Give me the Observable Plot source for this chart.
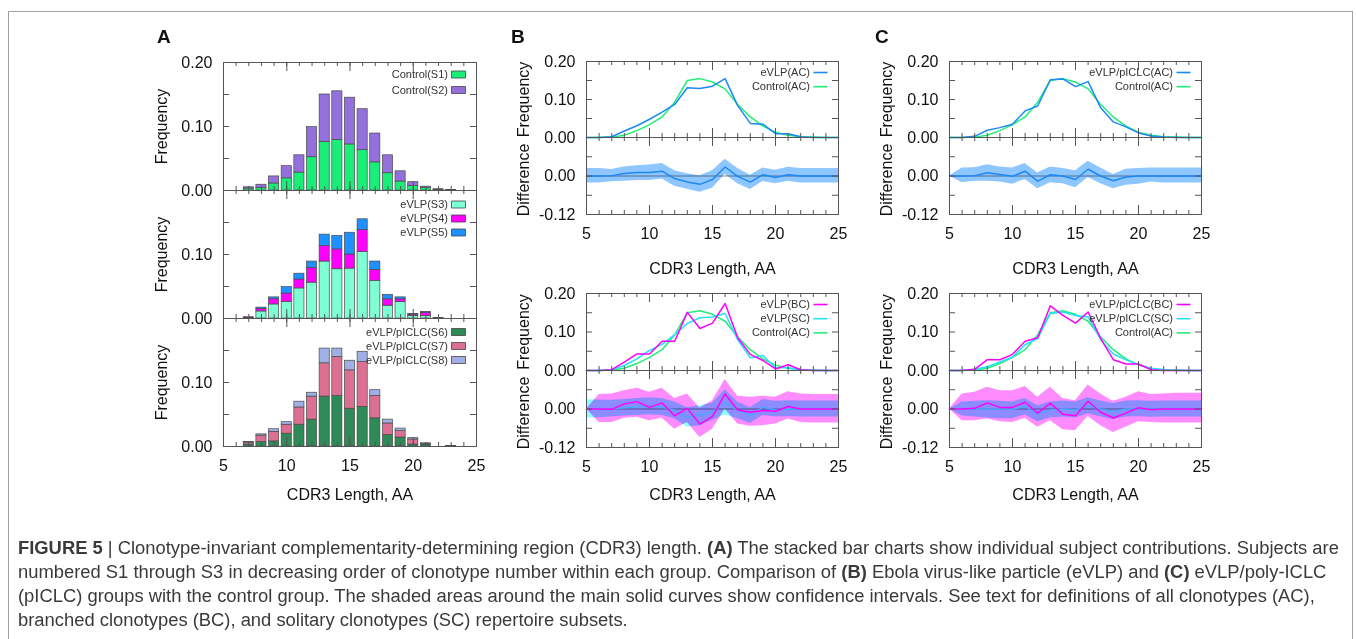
<!DOCTYPE html>
<html><head><meta charset="utf-8">
<script src="https://cdn.jsdelivr.net/npm/d3@7"></script>
<script src="https://cdn.jsdelivr.net/npm/@observablehq/plot@0.6"></script>
<style>
html,body{margin:0;padding:0;background:#fff;}
#wrap{position:relative;width:1356px;height:639px;overflow:hidden;font-family:"Liberation Sans",Arial,sans-serif;}
#wrap svg{position:absolute;background:transparent;overflow:visible;}
.border{position:absolute;left:8px;top:11px;width:1343px;height:700px;border:1px solid #a0a0a0;}
.letter{position:absolute;font-weight:bold;font-size:19px;line-height:19px;color:#111;}
.cap{position:absolute;left:18px;white-space:nowrap;font-size:15px;line-height:20px;color:#3a3a3a;}
</style></head><body><div id="wrap"><div class="border"></div></div>
<script>
// ---------------- data ----------------
const barLengths = [6,7,8,9,10,11,12,13,14,15,16,17,18,19,20,21,22,23];
const controlS1 = [0,0.003,0.004,0.011,0.019,0.028,0.052,0.076,0.079,0.072,0.063,0.044,0.027,0.014,0.007,0.004,0.001,0];
const controlS2 = [0,0.002,0.005,0.011,0.019,0.027,0.047,0.074,0.076,0.073,0.064,0.045,0.028,0.016,0.006,0.002,0.001,0.001];
const evlpS3 = [0,0.001,0.011,0.022,0.026,0.047,0.056,0.089,0.077,0.078,0.104,0.059,0.020,0.026,0.004,0.004,0.001,0];
const evlpS4 = [0,0.001,0.004,0.008,0.013,0.014,0.023,0.024,0.031,0.022,0.034,0.017,0.010,0.004,0.002,0.005,0,0];
const evlpS5 = [0,0,0.002,0.003,0.010,0.009,0.010,0.018,0.021,0.034,0.017,0.013,0.007,0.003,0.001,0.001,0,0];
const piclcS6 = [0,0.003,0.007,0.008,0.020,0.034,0.042,0.078,0.079,0.059,0.062,0.044,0.018,0.014,0.003,0.003,0,0.001];
const piclcS7 = [0,0.003,0.010,0.015,0.014,0.027,0.036,0.052,0.061,0.060,0.070,0.035,0.018,0.010,0.008,0.001,0,0];
const piclcS8 = [0,0.001,0.002,0.004,0.004,0.009,0.006,0.023,0.013,0.015,0.016,0.009,0.006,0.004,0.002,0.001,0,0];

const lengths = [5,6,7,8,9,10,11,12,13,14,15,16,17,18,19,20,21,22,23,24,25];
const controlAC = [0,0,0.001,0.006,0.018,0.034,0.054,0.093,0.150,0.155,0.146,0.128,0.087,0.054,0.030,0.014,0.006,0.002,0.001,0,0];
const evlpAC  = [0,0,0.002,0.017,0.031,0.048,0.067,0.087,0.131,0.129,0.135,0.155,0.084,0.037,0.035,0.010,0.010,0.002,0,0,0];
const evlpBC  = [0,0,0.002,0.022,0.043,0.043,0.076,0.076,0.151,0.109,0.123,0.174,0.085,0.042,0.026,0.004,0.015,0.002,0,0,0];
const evlpSC  = [0,0,0.002,0.013,0.030,0.052,0.068,0.093,0.122,0.137,0.139,0.148,0.080,0.033,0.039,0.007,0.007,0.002,0,0,0];
const piclcAC = [0,0,0.003,0.019,0.026,0.035,0.070,0.083,0.152,0.154,0.134,0.147,0.078,0.041,0.028,0.012,0.004,0.001,0,0,0];
const piclcBC = [0,0,0.003,0.028,0.028,0.042,0.076,0.085,0.168,0.143,0.123,0.152,0.083,0.028,0.017,0.017,0.002,0,0,0,0];
const piclcSC = [0,0,0.003,0.010,0.022,0.035,0.067,0.083,0.148,0.152,0.143,0.139,0.080,0.043,0.028,0.016,0.005,0.002,0,0,0];

const diffEvlpAC    = [0,0,0.001,0.008,0.011,0.011,0.015,-0.008,-0.019,-0.026,-0.011,0.028,-0.001,-0.019,0.004,-0.005,0.004,0,0,0,0];
const diffEvlpAC_hi = [0.023,0.023,0.020,0.028,0.032,0.034,0.039,0.016,0.007,0.001,0.016,0.052,0.023,0.002,0.025,0.018,0.027,0.023,0.023,0.023,0.023];
const diffEvlpAC_lo = [-0.022,-0.022,-0.018,-0.016,-0.014,-0.014,-0.009,-0.032,-0.041,-0.051,-0.038,0.005,-0.024,-0.042,-0.017,-0.024,-0.016,-0.022,-0.022,-0.022,-0.022];
const diffEvlpBC    = [0,0,-0.001,0.016,0.023,0.005,0.019,-0.021,0.002,-0.047,-0.023,0.047,-0.003,-0.010,-0.005,-0.007,0.008,0,0,0,0];
const diffEvlpBC_hi = [0,0.045,0.047,0.057,0.065,0.052,0.065,0.033,0.047,0.003,0.026,0.092,0.040,0.037,0.040,0.037,0.054,0.047,0.045,0.045,0.045];
const diffEvlpBC_lo = [0,-0.042,-0.042,-0.029,-0.026,-0.037,-0.029,-0.063,-0.042,-0.089,-0.063,0.000,-0.047,-0.054,-0.052,-0.047,-0.031,-0.042,-0.044,-0.044,-0.044];
const diffEvlpSC    = [0,0,0.001,0.004,0.006,0.009,0.006,-0.004,-0.026,-0.019,-0.008,0.020,-0.004,-0.020,0.006,-0.003,0.001,0,0,0,0];
const diffEvlpSC_hi = [0.029,0.028,0.027,0.030,0.033,0.035,0.033,0.022,0.004,0.010,0.018,0.060,0.022,0.004,0.030,0.024,0.026,0.025,0.025,0.025,0.025];
const diffEvlpSC_lo = [-0.029,-0.027,-0.025,-0.022,-0.020,-0.018,-0.020,-0.030,-0.057,-0.052,-0.035,-0.019,-0.030,-0.045,-0.020,-0.025,-0.024,-0.025,-0.025,-0.025,-0.025];

const diffPiclcAC    = [0,0,0.001,0.010,0.005,-0.001,0.015,-0.016,0.004,0,-0.011,0.021,0,-0.015,-0.003,0,0,0,0,0,0];
const diffPiclcAC_hi = [0,0.025,0.026,0.035,0.028,0.025,0.039,0.009,0.028,0.023,0.016,0.046,0.025,0.005,0.021,0.023,0.025,0.025,0.025,0.025,0.025];
const diffPiclcAC_lo = [0,-0.021,-0.016,-0.016,-0.019,-0.026,-0.011,-0.040,-0.021,-0.024,-0.037,-0.005,-0.024,-0.040,-0.029,-0.026,-0.019,-0.022,-0.022,-0.022,-0.022];
const diffPiclcBC    = [0,0,0.002,0.019,0.005,0.005,0.021,-0.013,0.018,-0.016,-0.021,0.024,-0.010,-0.028,-0.013,0.004,-0.002,0,0,0,0];
const diffPiclcBC_hi = [0,0.047,0.052,0.068,0.057,0.057,0.070,0.037,0.068,0.033,0.026,0.075,0.047,0.023,0.037,0.054,0.045,0.047,0.049,0.049,0.049];
const diffPiclcBC_lo = [0,-0.037,-0.037,-0.031,-0.040,-0.042,-0.029,-0.057,-0.037,-0.065,-0.068,-0.023,-0.052,-0.073,-0.057,-0.040,-0.042,-0.044,-0.044,-0.044,-0.044];
const diffPiclcSC    = [0,0,0.001,0,0,-0.001,0.008,-0.016,-0.003,0,-0.002,0.010,0,-0.008,0,0.001,-0.001,0,0,0,0];
const diffPiclcSC_hi = [0,0.022,0.024,0.026,0.024,0.022,0.033,0.010,0.022,0.025,0.022,0.035,0.025,0.017,0.025,0.026,0.024,0.025,0.025,0.025,0.025];
const diffPiclcSC_lo = [0,-0.022,-0.025,-0.028,-0.030,-0.030,-0.018,-0.040,-0.028,-0.025,-0.028,-0.015,-0.025,-0.033,-0.025,-0.024,-0.026,-0.025,-0.025,-0.025,-0.025];

const xTickLabels = [5,10,15,20,25];
const xMinorTicks = [5,6,7,8,9,10,11,12,13,14,15,16,17,18,19,20,21,22,23,24,25];
const freqTicks = [0,0.05,0.10,0.15,0.20];
const freqLabelsTop = [0,0.10,0.20];
const freqLabelsLower = [0,0.10];
const diffTicks = [-0.12,-0.06,0,0.06,0.12];
const diffLabels = [-0.12,0];

// ---------------- helpers ----------------
const wrap = document.getElementById("wrap");
const INK = "#111", FRAME = "#555";
const C = {s1:"#1aee78", s2:"#9370db", s3:"#7fffd4", s4:"#ff00ff", s5:"#1e90ff", s6:"#2e8b57", s7:"#db7093", s8:"#a0b0e4",
  ctrl:"#22ee77", ac:"#1e88f5", bc:"#ff00ff", sc:"#22e2ff", scDiff:"#4da6ff"};
const rectSymbol = {draw(c){ c.rect(-7,-3.5,14,7); }};
const lineSymbol = {draw(c){ c.moveTo(-7,0); c.lineTo(7,0); }};

const series = v => lengths.map((x,i) => ({x, y: v[i]}));
const band = (lo,hi) => lengths.map((x,i) => ({x, lo: lo[i], hi: hi[i]}));

function stackMarks(list){
  const marks = [];
  const acc = barLengths.map(() => 0);
  for (const s of list){
    const rows = [];
    barLengths.forEach((len,i) => { const v = s.values[i]; if (v > 0) rows.push({len, y1: acc[i], y2: acc[i] + v}); acc[i] += v; });
    marks.push(Plot.rect(rows, {x1: d => d.len - 0.4, x2: d => d.len + 0.4, y1: "y1", y2: "y2", fill: s.color, stroke: "#4a4a4a", strokeWidth: 0.7}));
  }
  return marks;
}

function legend(rows, top, step, kind){
  const out = [];
  rows.forEach((r,i) => {
    const dy = top + i*step;
    out.push(Plot.text([r.label], {text: d => d, frameAnchor: "top-right", textAnchor: "end", lineAnchor: "middle", dx: -28.5, dy, fontSize: 11, fill: "#333"}));
    out.push(Plot.dot([r], {frameAnchor: "top-right", dx: -18, dy, symbol: kind === "rect" ? rectSymbol : lineSymbol,
      fill: kind === "rect" ? r.color : "none", stroke: kind === "rect" ? "#444" : r.color, strokeWidth: kind === "rect" ? 0.8 : 1.6}));
  });
  return out;
}

function panel(o){
  const ML = 110, MR = 40, MT = 40, MB = 80;
  const W = o.x1 - o.x0, H = o.y1 - o.y0;
  const marks = [
    ...o.marks,
    Plot.tickX(xMinorTicks, {x: d => d, insetTop: H - 4, stroke: FRAME}),
    Plot.tickX(xMinorTicks, {x: d => d, insetBottom: H - 4, stroke: FRAME}),
    Plot.tickX(xTickLabels, {x: d => d, insetTop: H - 9, stroke: FRAME}),
    Plot.tickX(xTickLabels, {x: d => d, insetBottom: H - 9, stroke: FRAME}),
    Plot.tickY(o.yTicks, {y: d => d, insetRight: W - 6, stroke: FRAME}),
    Plot.tickY(o.yTicks, {y: d => d, insetLeft: W - 6, stroke: FRAME}),
    Plot.frame({stroke: FRAME}),
    Plot.axisY(o.yLabels, {tickSize: 0, tickPadding: 11, tickFormat: d => d.toFixed(2), label: null})
  ];
  if (o.xLabels) marks.push(Plot.axisX(xTickLabels, {tickSize: 0, tickPadding: 13, tickFormat: d => String(d), label: null}));
  if (o.xTitle) marks.push(Plot.text([o.xTitle], {text: d => d, frameAnchor: "bottom", textAnchor: "middle", lineAnchor: "middle", dy: o.xTitleDy, fontSize: 16, fill: INK}));
  if (o.yTitle) marks.push(Plot.text([o.yTitle], {text: d => d, frameAnchor: "left", textAnchor: "middle", lineAnchor: "middle", dx: o.yTitleDx, dy: o.yTitleDy || 0, rotate: -90, fontSize: 16, fill: INK}));
  const svg = Plot.plot({
    width: W + ML + MR, height: H + MT + MB,
    marginLeft: ML, marginRight: MR, marginTop: MT, marginBottom: MB,
    x: {domain: [5,25], axis: null},
    y: {domain: o.yDomain, axis: null},
    style: {background: "transparent", overflow: "visible", fontFamily: '"Liberation Sans", Arial, sans-serif', fontSize: "16px", color: INK},
    marks
  });
  svg.style.position = "absolute";
  svg.style.left = (o.x0 - ML) + "px";
  svg.style.top = (o.y0 - MT) + "px";
  wrap.appendChild(svg);
}

const freqDomain = [0, 0.2], diffDomain = [-0.12, 0.12];
const L = {ax0: 223, ax1: 476, bx0: 586, bx1: 838, cx0: 949, cx1: 1201,
  a: [62, 190, 318, 446], top: [61, 137, 214], bot: [293, 370, 447]};

// ---------------- panel A ----------------
panel({x0: L.ax0, x1: L.ax1, y0: L.a[0], y1: L.a[1], yDomain: freqDomain, yTicks: freqTicks, yLabels: freqLabelsTop,
  yTitle: "Frequency", yTitleDx: -62,
  marks: [...stackMarks([{values: controlS1, color: C.s1}, {values: controlS2, color: C.s2}]),
    ...legend([{label: "Control(S1)", color: C.s1}, {label: "Control(S2)", color: C.s2}], 12, 15.5, "rect")]});
panel({x0: L.ax0, x1: L.ax1, y0: L.a[1], y1: L.a[2], yDomain: freqDomain, yTicks: freqTicks, yLabels: freqLabelsLower,
  yTitle: "Frequency", yTitleDx: -62,
  marks: [...stackMarks([{values: evlpS3, color: C.s3}, {values: evlpS4, color: C.s4}, {values: evlpS5, color: C.s5}]),
    ...legend([{label: "eVLP(S3)", color: C.s3}, {label: "eVLP(S4)", color: C.s4}, {label: "eVLP(S5)", color: C.s5}], 14, 14, "rect")]});
panel({x0: L.ax0, x1: L.ax1, y0: L.a[2], y1: L.a[3], yDomain: freqDomain, yTicks: freqTicks, yLabels: freqLabelsLower,
  yTitle: "Frequency", yTitleDx: -62, xLabels: true, xTitle: "CDR3 Length, AA", xTitleDy: 48,
  marks: [...stackMarks([{values: piclcS6, color: C.s6}, {values: piclcS7, color: C.s7}, {values: piclcS8, color: C.s8}]),
    ...legend([{label: "eVLP/pICLC(S6)", color: C.s6}, {label: "eVLP/pICLC(S7)", color: C.s7}, {label: "eVLP/pICLC(S8)", color: C.s8}], 13.5, 14, "rect")]});

// ---------------- panels B and C ----------------
function freqPanel(x0, x1, y0, y1, lines, legendRows){
  panel({x0, x1, y0, y1, yDomain: freqDomain, yTicks: freqTicks, yLabels: freqLabelsTop, yTitle: "Frequency", yTitleDx: -63,
    marks: [...lines.map(l => Plot.lineY(series(l.values), {x: "x", y: "y", stroke: l.color, strokeWidth: 1.5})),
      ...legend(legendRows, 11, 14.2, "line")]});
}
function diffPanel(x0, x1, y0, y1, bands, lines, xTitleDy){
  panel({x0, x1, y0, y1, yDomain: diffDomain, yTicks: diffTicks, yLabels: diffLabels, yTitle: "Difference", yTitleDx: -63, yTitleDy: 4,
    xLabels: true, xTitle: "CDR3 Length, AA", xTitleDy,
    marks: [Plot.ruleY([0], {stroke: "#8a8a8a", strokeWidth: 1}),
      ...bands.map(b => Plot.areaY(band(b.lo, b.hi), {x: "x", y1: "lo", y2: "hi", fill: b.color, fillOpacity: b.opacity, mixBlendMode: "multiply"})),
      ...lines.map(l => Plot.lineY(series(l.values), {x: "x", y: "y", stroke: l.color, strokeWidth: 1.5}))]});
}

freqPanel(L.bx0, L.bx1, L.top[0], L.top[1],
  [{values: controlAC, color: C.ctrl}, {values: evlpAC, color: C.ac}],
  [{label: "eVLP(AC)", color: C.ac}, {label: "Control(AC)", color: C.ctrl}]);
diffPanel(L.bx0, L.bx1, L.top[1], L.top[2],
  [{lo: diffEvlpAC_lo, hi: diffEvlpAC_hi, color: "#1e90ff", opacity: 0.5}],
  [{values: diffEvlpAC, color: C.ac}], 54);
freqPanel(L.bx0, L.bx1, L.bot[0], L.bot[1],
  [{values: controlAC, color: C.ctrl}, {values: evlpSC, color: C.sc}, {values: evlpBC, color: C.bc}],
  [{label: "eVLP(BC)", color: C.bc}, {label: "eVLP(SC)", color: C.sc}, {label: "Control(AC)", color: C.ctrl}]);
diffPanel(L.bx0, L.bx1, L.bot[1], L.bot[2],
  [{lo: diffEvlpSC_lo, hi: diffEvlpSC_hi, color: "#00ffff", opacity: 0.45}, {lo: diffEvlpBC_lo, hi: diffEvlpBC_hi, color: "#ff00ff", opacity: 0.45}],
  [{values: diffEvlpSC, color: C.scDiff}, {values: diffEvlpBC, color: C.bc}], 47);

freqPanel(L.cx0, L.cx1, L.top[0], L.top[1],
  [{values: controlAC, color: C.ctrl}, {values: piclcAC, color: C.ac}],
  [{label: "eVLP/pICLC(AC)", color: C.ac}, {label: "Control(AC)", color: C.ctrl}]);
diffPanel(L.cx0, L.cx1, L.top[1], L.top[2],
  [{lo: diffPiclcAC_lo, hi: diffPiclcAC_hi, color: "#1e90ff", opacity: 0.5}],
  [{values: diffPiclcAC, color: C.ac}], 54);
freqPanel(L.cx0, L.cx1, L.bot[0], L.bot[1],
  [{values: controlAC, color: C.ctrl}, {values: piclcSC, color: C.sc}, {values: piclcBC, color: C.bc}],
  [{label: "eVLP/pICLC(BC)", color: C.bc}, {label: "eVLP/pICLC(SC)", color: C.sc}, {label: "Control(AC)", color: C.ctrl}]);
diffPanel(L.cx0, L.cx1, L.bot[1], L.bot[2],
  [{lo: diffPiclcSC_lo, hi: diffPiclcSC_hi, color: "#00ffff", opacity: 0.45}, {lo: diffPiclcBC_lo, hi: diffPiclcBC_hi, color: "#ff00ff", opacity: 0.45}],
  [{values: diffPiclcSC, color: C.scDiff}, {values: diffPiclcBC, color: C.bc}], 47);

// ---------------- letters and caption ----------------
const panelLetters = [["A", 157], ["B", 511], ["C", 875]];
for (const [t, left] of panelLetters){
  const d = document.createElement("div"); d.className = "letter"; d.textContent = t;
  d.style.left = left + "px"; d.style.top = "27px"; wrap.appendChild(d);
}
const captionLines = [
  '<b>FIGURE 5</b> | Clonotype-invariant complementarity-determining region (CDR3) length. <b>(A)</b> The stacked bar charts show individual subject contributions. Subjects are',
  'numbered S1 through S3 in decreasing order of clonotype number within each group. Comparison of <b>(B)</b> Ebola virus-like particle (eVLP) and <b>(C)</b> eVLP/poly-ICLC',
  '(pICLC) groups with the control group. The shaded areas around the main solid curves show confidence intervals. See text for definitions of all clonotypes (AC),',
  'branched clonotypes (BC), and solitary clonotypes (SC) repertoire subsets.'
];
const capEls = captionLines.map((h, i) => {
  const d = document.createElement("div"); d.className = "cap"; d.innerHTML = h;
  d.style.top = (538 + i*24) + "px"; wrap.appendChild(d); return d;
});
const w0 = capEls[0].getBoundingClientRect().width;
const fs = 15 * 1322 / w0;
capEls.forEach(d => d.style.fontSize = fs.toFixed(2) + "px");
</script></body></html>
